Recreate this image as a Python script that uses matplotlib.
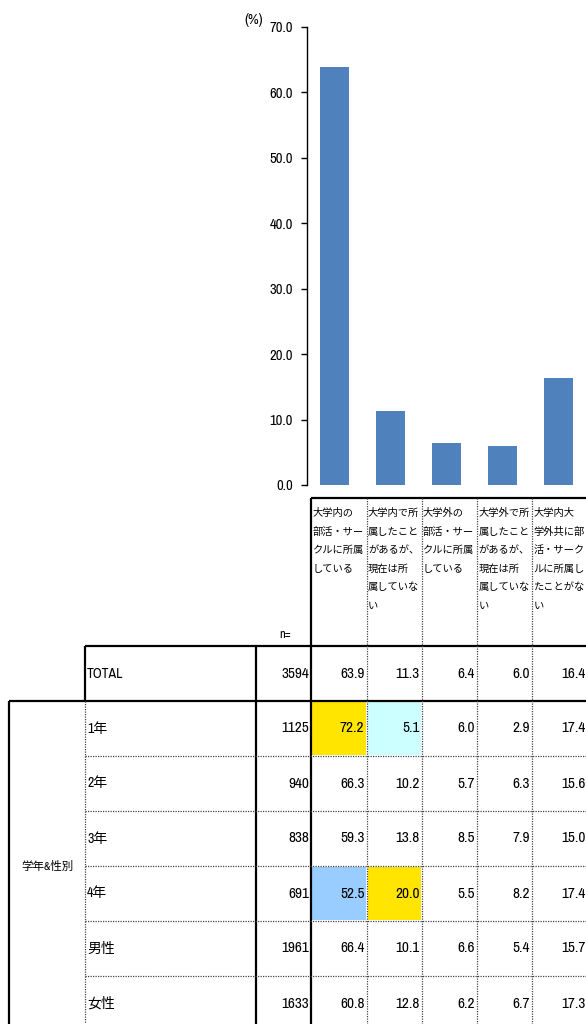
import matplotlib
matplotlib.use("Agg")
import matplotlib.pyplot as plt
from matplotlib.patches import Rectangle

# ---- data -------------------------------------------------------------
headers = [
    "大学内の\n部活・サー\nクルに所属\nしている",
    "大学内で所\n属したこと\nがあるが、\n現在は所\n属していな\nい",
    "大学外の\n部活・サー\nクルに所属\nしている",
    "大学外で所\n属したこと\nがあるが、\n現在は所\n属していな\nい",
    "大学内大\n学外共に部\n活・サーク\nルに所属し\nたことがな\nい",
]
total_n = 3594
total_vals = [63.9, 11.3, 6.4, 6.0, 16.4]
group_label = "学年&性別"
row_labels = ["1年", "2年", "3年", "4年", "男性", "女性"]
row_n = [1125, 940, 838, 691, 1961, 1633]
row_vals = [
    [72.2, 5.1, 6.0, 2.9, 17.4],
    [66.3, 10.2, 5.7, 6.3, 15.6],
    [59.3, 13.8, 8.5, 7.9, 15.0],
    [52.5, 20.0, 5.5, 8.2, 17.4],
    [66.4, 10.1, 6.6, 5.4, 15.7],
    [60.8, 12.8, 6.2, 6.7, 17.3],
]
# highlighted cells (row index, column index) -> colour
highlight = {(0, 0): "#FFE500", (0, 1): "#CCFFFF",
             (3, 0): "#99CCFF", (3, 1): "#FFE500"}

BAR_COLOR = "#4F81BD"
plt.rcParams["font.family"] = ["Archivo Narrow", "Noto Sans CJK JP", "DejaVu Sans"]

W, H = 586, 1024
fig = plt.figure(figsize=(W / 100, H / 100), dpi=100)

# ---- bar chart ------------------------------------------------------
ax = fig.add_axes([307 / W, 1 - 485 / H, (W - 307) / W, (485 - 27) / H])
ax.bar(range(len(total_vals)), total_vals, width=0.52, color=BAR_COLOR)
ax.set_xlim(-0.5, len(total_vals) - 0.5)
ax.set_ylim(0, 70)
ax.set_yticks(range(0, 71, 10))
ax.set_yticklabels([f"{v:.1f}" for v in range(0, 71, 10)], fontsize=10.5)
ax.set_xticks([])
for s in ("top", "right", "bottom"):
    ax.spines[s].set_visible(False)
ax.spines["left"].set_linewidth(1)
ax.tick_params(axis="y", direction="out", length=4, width=1, pad=6)
ax.patch.set_alpha(0)

# ---- table (pixel coordinates) --------------------------------------
tab = fig.add_axes([0, 0, 1, 1], zorder=-1)
tab.set_xlim(0, W)
tab.set_ylim(H, 0)
tab.axis("off")

cols = [9, 85, 256, 311, 366.5, 421.5, 477, 532, 588]   # column edges
head_top, tot_top, row_h = 498, 646, 55
rows_top = tot_top + row_h
n_rows = len(row_labels)
bottom = rows_top + n_rows * row_h
solid = dict(color="black", lw=1.6, solid_capstyle="butt")
dotted = dict(color="#444444", lw=0.9, linestyle=(0, (1, 1)))

# highlighted cells
for (r, c), col in highlight.items():
    x0 = cols[3 + c]
    y0 = rows_top + r * row_h
    tab.add_patch(Rectangle((x0 + 1, y0 + 1), cols[4 + c] - x0 - 2, row_h - 2,
                            color=col, lw=0))

# solid lines
tab.plot([cols[3], W], [head_top, head_top], **solid)
tab.plot([cols[3], cols[3]], [head_top, bottom], **solid)
tab.plot([cols[1], W], [tot_top, tot_top], **solid)
tab.plot([cols[0], W], [rows_top, rows_top], **solid)
tab.plot([cols[1], cols[1]], [tot_top, rows_top], **solid)
tab.plot([cols[2], cols[2]], [tot_top, bottom], **solid)
tab.plot([cols[0], cols[0]], [rows_top, bottom], **solid)

# dotted lines
for x in cols[4:-1]:
    tab.plot([x, x], [head_top, bottom], **dotted)
tab.plot([cols[1], cols[1]], [rows_top, bottom], **dotted)
for i in range(1, n_rows + 1):
    y = rows_top + i * row_h
    tab.plot([cols[1], W], [y, y], **dotted)

# header text
for j, txt in enumerate(headers):
    for k, line in enumerate(txt.split("\n")):
        tab.text(cols[3 + j] + 1.5, 513 + k * 18.6, line, fontsize=7.4,
                 ha="left", va="center")
tab.text(279, 634, "n=", fontsize=9, ha="left", va="center")
fig.text(263 / W, 1 - 20 / H, "(%)", fontsize=10.5, ha="right", va="center")


def put_row(y_top, label, n, vals):
    yc = y_top + row_h / 2
    tab.text(cols[1] + 2, yc, label, fontsize=10, ha="left", va="center")
    tab.text(cols[3] - 2, yc, f"{n}", fontsize=11, ha="right", va="center")
    for j, v in enumerate(vals):
        tab.text(cols[4 + j] - 2, yc, f"{v:.1f}", fontsize=11,
                 ha="right", va="center")


put_row(tot_top, "TOTAL", total_n, total_vals)
for i, (lab, n, vals) in enumerate(zip(row_labels, row_n, row_vals)):
    put_row(rows_top + i * row_h, lab, n, vals)

tab.text((cols[0] + cols[1]) / 2, (rows_top + bottom) / 2, group_label,
         fontsize=8.3, ha="center", va="center")

fig.savefig("out.png", dpi=100)
